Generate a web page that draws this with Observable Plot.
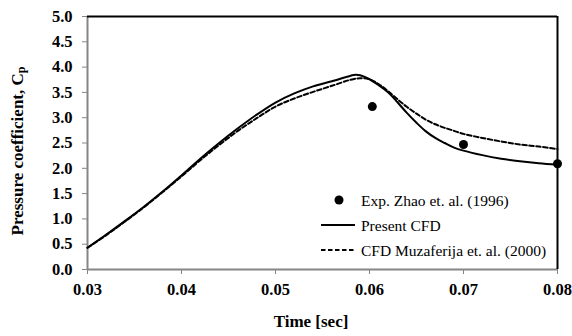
<!DOCTYPE html>
<html>
<head>
<meta charset="utf-8">
<script src="https://cdn.jsdelivr.net/npm/d3@7"></script>
<script src="https://cdn.jsdelivr.net/npm/@observablehq/plot@0.6"></script>
<style>
  html, body { margin: 0; padding: 0; background: #fff; }
  #chart svg { display: block; }
</style>
</head>
<body>
<div id="chart"></div>
<script>
// Time axis (s) and pressure coefficient Cp for the slamming case
const xTicks = [0.03, 0.04, 0.05, 0.06, 0.07, 0.08];
const yTicks = [0, 0.5, 1, 1.5, 2, 2.5, 3, 3.5, 4, 4.5, 5];

// Present CFD (solid line)
const presentT  = [0.030, 0.032, 0.034, 0.036, 0.038, 0.040, 0.042, 0.044, 0.046, 0.048, 0.050, 0.052, 0.054, 0.056, 0.058, 0.0585, 0.059, 0.060, 0.061, 0.062, 0.063, 0.064, 0.065, 0.066, 0.067, 0.068, 0.069, 0.070, 0.072, 0.074, 0.076, 0.078, 0.080];
const presentCp = [0.43, 0.69, 0.96, 1.24, 1.54, 1.86, 2.19, 2.50, 2.79, 3.06, 3.30, 3.48, 3.62, 3.72, 3.83, 3.85, 3.84, 3.76, 3.64, 3.50, 3.30, 3.09, 2.90, 2.73, 2.60, 2.50, 2.41, 2.35, 2.26, 2.19, 2.14, 2.10, 2.07];

// CFD Muzaferija et al. (2000) (dashed line)
const muzT  = [0.030, 0.032, 0.034, 0.036, 0.038, 0.040, 0.042, 0.044, 0.046, 0.048, 0.050, 0.052, 0.054, 0.056, 0.058, 0.059, 0.060, 0.061, 0.062, 0.063, 0.064, 0.065, 0.066, 0.067, 0.068, 0.069, 0.070, 0.072, 0.074, 0.076, 0.078, 0.080];
const muzCp = [0.43, 0.68, 0.95, 1.23, 1.53, 1.84, 2.16, 2.46, 2.74, 2.99, 3.22, 3.38, 3.51, 3.63, 3.75, 3.78, 3.76, 3.66, 3.52, 3.36, 3.21, 3.08, 2.96, 2.87, 2.80, 2.74, 2.68, 2.60, 2.53, 2.47, 2.43, 2.38];

// Experiment, Zhao et al. (1996)
const expT  = [0.0603, 0.070, 0.080];
const expCp = [3.22, 2.47, 2.09];

const legendLabels = ["Exp. Zhao et. al. (1996)", "Present CFD", "CFD Muzaferija et. al. (2000)"];

const present = presentT.map((t, i) => ({t, cp: presentCp[i]}));
const muz = muzT.map((t, i) => ({t, cp: muzCp[i]}));
const exp = expT.map((t, i) => ({t, cp: expCp[i]}));

const serif = "'Liberation Serif', 'Times New Roman', serif";
const axisGray = "#868686";

const chart = Plot.plot({
  width: 572,
  height: 336,
  marginLeft: 87,
  marginRight: 15,
  marginTop: 16,
  marginBottom: 67,
  style: {fontFamily: serif, background: "#fff", color: "#000"},
  x: {domain: [0.03, 0.08]},
  y: {domain: [0, 5]},
  marks: [
    Plot.axisY({ticks: yTicks, tickFormat: d3.format(".1f"), tickSize: 5, tickPadding: 10,
      stroke: axisGray, fill: "#000", fontWeight: "bold", fontSize: 16.5, label: null}),
    Plot.axisX({ticks: xTicks, tickFormat: d3.format(".2f"), tickSize: 5, tickPadding: 9,
      stroke: axisGray, fill: "#000", fontWeight: "bold", fontSize: 16.5, label: null}),
    Plot.ruleX([0.03], {stroke: axisGray, strokeWidth: 2}),
    Plot.ruleY([0], {stroke: axisGray, strokeWidth: 2}),
    Plot.ruleY([5], {stroke: "#000", strokeWidth: 2}),
    Plot.ruleX([0.08], {stroke: "#000", strokeWidth: 2}),
    Plot.line(muz, {x: "t", y: "cp", stroke: "#000", strokeWidth: 2, strokeDasharray: "4.5,2.5", curve: "catmull-rom"}),
    Plot.line(present, {x: "t", y: "cp", stroke: "#000", strokeWidth: 2, curve: "catmull-rom"}),
    Plot.dot(exp, {x: "t", y: "cp", r: 4.5, fill: "#000", stroke: "none"})
  ]
});

const svg = d3.select(chart);

// Axis titles
svg.append("text")
  .attr("x", 311).attr("y", 321)
  .attr("text-anchor", "middle").attr("dominant-baseline", "central")
  .attr("font-family", serif).attr("font-weight", "bold").attr("font-size", 17)
  .text("Time [sec]");

const yTitle = svg.append("text")
  .attr("transform", "translate(17,151) rotate(-90)")
  .attr("text-anchor", "middle").attr("dominant-baseline", "central")
  .attr("font-family", serif).attr("font-weight", "bold").attr("font-size", 17);
yTitle.append("tspan").text("Pressure coefficient, C");
yTitle.append("tspan").attr("font-size", 12).attr("dy", 4).text("p");

// Legend
const lg = svg.append("g").attr("font-family", serif).attr("font-size", 15.5).attr("text-anchor", "start");
const rows = [200, 225, 250];
lg.append("circle").attr("cx", 339).attr("cy", rows[0]).attr("r", 4.5).attr("fill", "#000");
lg.append("line").attr("x1", 321).attr("x2", 355).attr("y1", rows[1]).attr("y2", rows[1])
  .attr("stroke", "#000").attr("stroke-width", 2);
lg.append("line").attr("x1", 321).attr("x2", 355).attr("y1", rows[2]).attr("y2", rows[2])
  .attr("stroke", "#000").attr("stroke-width", 2).attr("stroke-dasharray", "4.5,2.5");
legendLabels.forEach((s, i) => {
  lg.append("text").attr("x", 361).attr("y", rows[i]).attr("dominant-baseline", "central")
    .attr("text-anchor", "start").text(s);
});

document.getElementById("chart").appendChild(chart);
</script>
</body>
</html>
